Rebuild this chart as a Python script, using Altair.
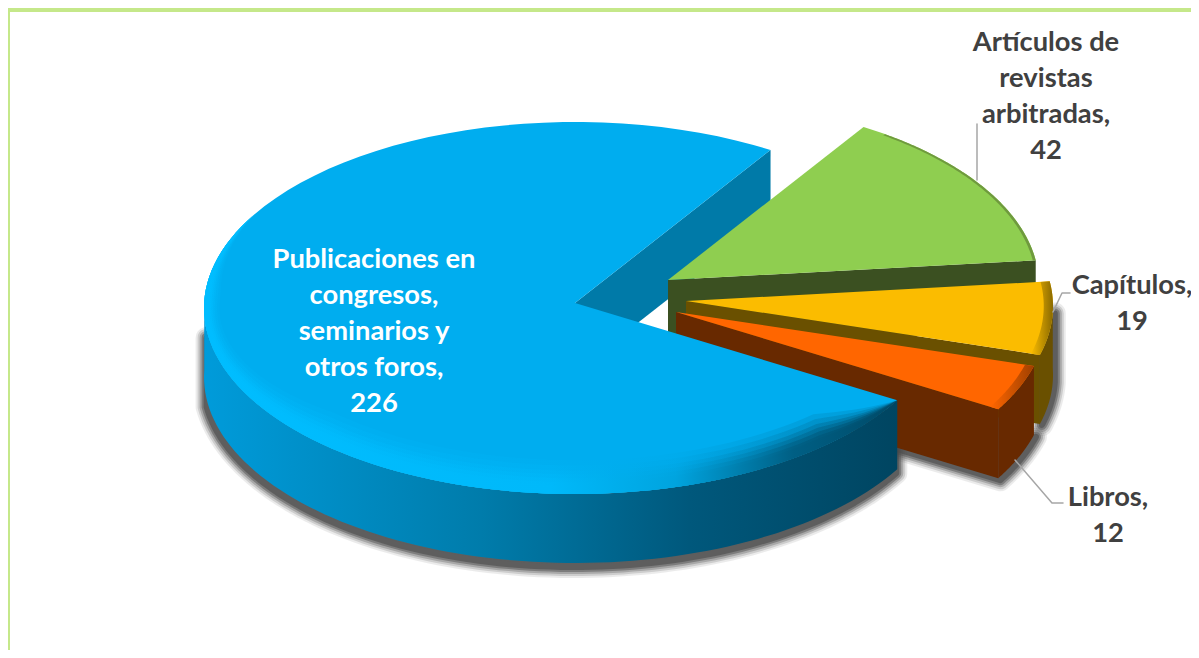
import altair as alt
import numpy as np

# ---- data
CATEGORIES = ["Publicaciones en congresos, seminarios y otros foros",
              "Artículos de revistas arbitradas", "Capítulos", "Libros"]
VALUES = [226, 42, 19, 12]
LABELS = ["Publicaciones en\ncongresos,\nseminarios y\notros foros,\n226",
          "Artículos de\nrevistas\narbitradas,\n42",
          "Capítulos,\n19",
          "Libros,\n12"]
TOP_COLORS = ["#00adef", "#8fce50", "#fbbc00", "#ff6600"]
WALL_COLORS = ["#007aa8", "#3b5021", "#6a5000", "#682900"]

# ---- layout of the tilted, exploded pie (screen pixels of the page)
A, B, DEPTH = 371.0, 186.0, 69.0
START_DEG = 119.7
APEX = [(575, 303), (668, 280), (686, 301), (676, 312)]
CENTRE = [(575, 308), (668, 285), (682, 306), (676, 317)]
LABEL_POS = [(374, 260), (1046, 43), (1132, 286), (1108, 498)]
LABEL_COL = ["#ffffff", "#404040", "#404040", "#404040"]
LEADERS = [[(1053, 312), (1062, 293), (1070, 293)],
           [(977, 180), (977, 124)],
           [(1015, 460), (1052, 503), (1063, 503)]]
FONT = "Lato"
PROJ = dict(type="identity", scale=1, translate=[-8, -8])

total = sum(VALUES)
spans = [v / total * 360 for v in VALUES]
a0 = START_DEG
ANGLES = []
for s in spans:
    ANGLES.append((a0, a0 + s))
    a0 += s
ANGLES[1:] = [(x % 360, (x % 360) + s) for (x, _), s in zip(ANGLES[1:], spans[1:])]


def rim(i, d0, d1, r=1.0, n=90):
    cx, cy = CENTRE[i]
    t = np.radians(np.linspace(d0, d1, n))
    return [(float(cx + r * A * np.sin(v)), float(cy - r * B * np.cos(v))) for v in t]


def feature(points, closed=True):
    pts = [[float(x), float(y)] for x, y in points]
    if closed:
        geom = {"type": "Polygon", "coordinates": [pts + [pts[0]]]}
    else:
        geom = {"type": "LineString", "coordinates": pts}
    return {"type": "Feature", "properties": {}, "geometry": geom}


def shape(points, fill=None, stroke=None, sw=0.0, opacity=1.0, closed=True):
    kw = dict(opacity=opacity)
    if closed:
        kw.update(fill=fill, filled=True)
    else:
        kw.update(filled=False, fill="transparent")
    if stroke:
        kw.update(stroke=stroke, strokeWidth=sw, strokeJoin="round", strokeCap="round")
    else:
        kw.update(strokeWidth=0)
    return alt.Chart(alt.Data(values=[feature(points, closed)])).mark_geoshape(**kw).project(**PROJ)


def grad(*stops):
    return {"gradient": "linear", "x1": 0, "y1": 0, "x2": 1, "y2": 0,
            "stops": [{"offset": o, "color": c} for o, c in stops]}


def wall(i, d0, d1):
    top = rim(i, d0, d1)
    bottom = [(x, y + DEPTH) for x, y in reversed(top)]
    return top + bottom


def cut(i, d):
    e = rim(i, d, d, n=1)[0]
    ax, ay = APEX[i]
    return [(ax, ay), e, (e[0], e[1] + DEPTH), (ax, ay + DEPTH)]


def soft_shadow(points, dx=0, dy=6):
    moved = [(x + dx, y + dy) for x, y in points]
    return [shape(moved, fill="#4a4a4a", stroke="#4a4a4a", sw=w, opacity=o)
            for w, o in [(22, 0.10), (18, 0.18), (14, 0.28), (10, 0.45), (6, 0.6)]]


def wedge(i):
    return [APEX[i]] + rim(i, *ANGLES[i])


def bevel(i, d0, d1, fill, r=0.968, opacity=1.0):
    return shape(rim(i, d0, d1) + list(reversed(rim(i, d0, d1, r=r))), fill=fill, opacity=opacity)


def crescent(i, d0, d1, w, fill, opacity=1.0, fade=18.0):
    """Soft lit rim: inner edge pulled in and lifted, tapering out at both ends."""
    cx, cy = CENTRE[i]
    angles = np.linspace(d0, d1, 90)
    outer = rim(i, d0, d1)
    inner = []
    for t in angles:
        v = np.radians(t)
        shrink = w * 0.0016 * min(1.0, (t - d0) / fade, (d1 - t) / 25.0)
        lift = w * max(0.0, min(1.0, (t - d0) / fade, (268 - t) / 45.0))
        inner.append((cx + (1 - shrink) * A * np.sin(v), cy - (1 - shrink) * B * np.cos(v) - lift))
    return shape(outer + list(reversed(inner)), fill=fill, opacity=opacity)


layers = []
layers.append(shape([(8, 8), (1199, 8), (1199, 12), (10, 12), (10, 658), (8, 658)], fill="#c5e88a"))

g0, g1 = ANGLES[0]
layers += soft_shadow(wall(0, g0, 262), dx=-1, dy=4)
layers += soft_shadow(wall(3, ANGLES[3][0], ANGLES[3][1]) + cut(3, ANGLES[3][1])[2:], dx=2, dy=2)
layers += soft_shadow(wall(2, 92, ANGLES[2][1]), dx=2, dy=1)

layers.append(shape(cut(0, g1), fill=WALL_COLORS[0]))

layers.append(shape(cut(1, ANGLES[1][1]), fill=WALL_COLORS[1]))
layers.append(shape(wedge(1), fill=TOP_COLORS[1]))
layers.append(bevel(1, ANGLES[1][0] + 4, ANGLES[1][1], "#6f9a3e", r=0.992))

layers.append(shape(wall(2, 88, ANGLES[2][1]), fill=WALL_COLORS[2]))
layers.append(shape(cut(2, ANGLES[2][1]), fill=WALL_COLORS[2]))
layers.append(shape(wedge(2), fill=TOP_COLORS[2]))
layers.append(bevel(2, ANGLES[2][0], ANGLES[2][1], grad((0, "#fbbc00"), (1, "#8a6a00")), r=0.975))

layers.append(shape(wall(3, ANGLES[3][0], ANGLES[3][1]), fill=WALL_COLORS[3]))
layers.append(shape(cut(3, ANGLES[3][1]), fill=WALL_COLORS[3]))
layers.append(shape(wedge(3), fill=TOP_COLORS[3]))
layers.append(bevel(3, ANGLES[3][0], ANGLES[3][1], grad((0, "#ff6600"), (1, "#a04000")), r=0.975))

layers.append(shape(wall(0, g0, 272), fill=grad((0, "#009bda"), (0.4, "#007cab"), (0.7, "#00587c"), (1, "#004561"))))
layers.append(shape(wedge(0), fill=TOP_COLORS[0]))
rim_fill = grad((0, "#00bdff"), (0.5, "#00b9fa"), (0.68, "#00a4df"), (0.85, "#005f84"), (1, "#004a68"))
for w, o in [(26, 0.15), (22, 0.2), (18, 0.3), (15, 0.4), (12, 0.6), (9, 0.8), (7, 1.0)]:
    layers.append(crescent(0, g0, 300, w, rim_fill, opacity=o))

for line in LEADERS:
    layers.append(shape(line, stroke="#a6a6a6", sw=1.5, closed=False))

for cat, val, text, (x, y), col in zip(CATEGORIES, VALUES, LABELS, LABEL_POS, LABEL_COL):
    layers.append(
        alt.Chart(alt.Data(values=[{"category": cat, "value": val, "label": text}]))
        .mark_text(font=FONT, fontSize=27.3, fontWeight="bold", color=col, lineBreak="\n",
                   lineHeight=36, align="center", baseline="middle")
        .encode(text="label:N", x=alt.value(x - 8), y=alt.value(y - 8))
    )

chart = (alt.layer(*layers)
         .properties(width=1183, height=642, padding=0, autosize=alt.AutoSizeParams(type="none"))
         .configure_view(stroke=None))

chart.save("out.html", embed_options={"renderer": "svg", "actions": False})
